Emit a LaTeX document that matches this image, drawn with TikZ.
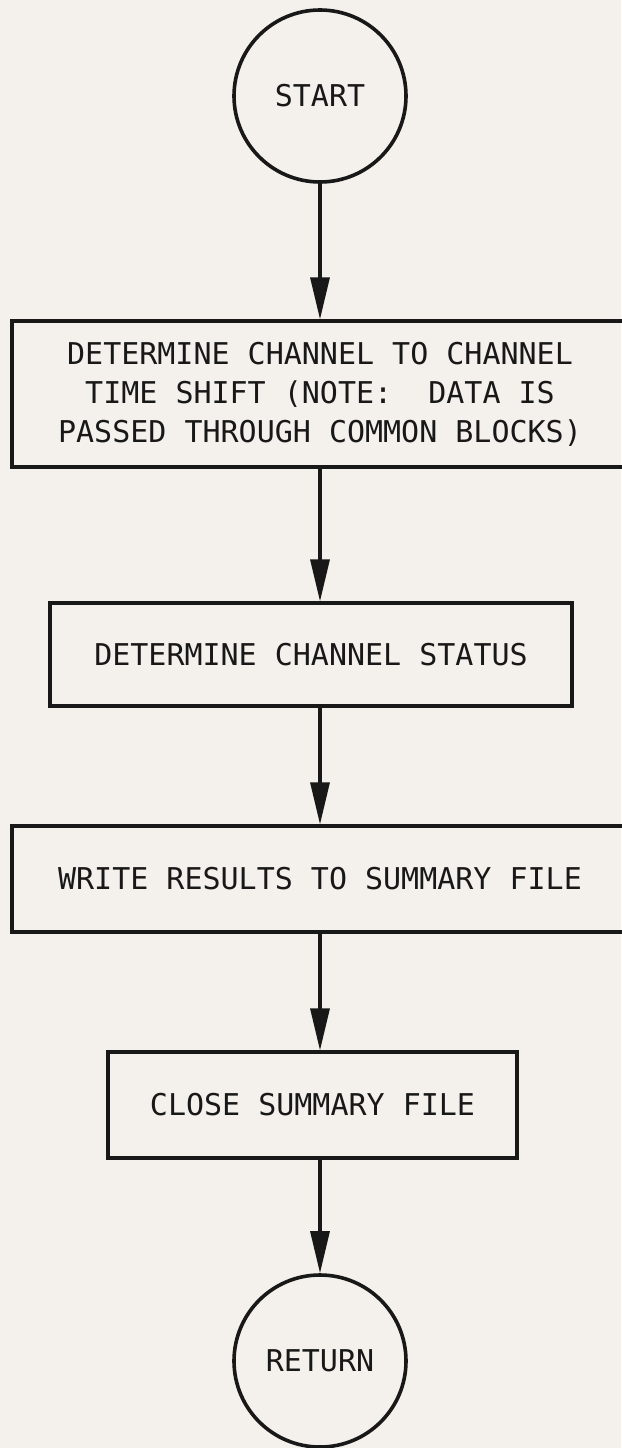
\documentclass[tikz,border=0pt]{standalone}
\usepackage{fontspec}
\newfontfamily\flowfont{DejaVu Sans Mono}
\usetikzlibrary{arrows.meta}
\definecolor{paper}{RGB}{244,241,236}
\definecolor{ink}{RGB}{24,24,24}
\begin{document}
\begin{tikzpicture}[x=1pt,y=-1pt,
  txt/.style={font=\flowfont\fontsize{30}{39}\selectfont, text=ink, align=center},
  terminal/.style={draw=ink, line width=3.6pt, circle, minimum size=172pt, inner sep=0pt, txt},
  process/.style={draw=ink, line width=3.2pt, rectangle, inner sep=0pt, txt},
  flow/.style={draw=ink, line width=3.2pt, -{Triangle[length=42pt,width=19pt]}}]
\fill[paper] (0,0) rectangle (621,1448);
\useasboundingbox (0,0) rectangle (621,1448);
\node[terminal] (start) at (320,96) {START};
\node[process, minimum width=616pt, minimum height=146pt] (b1) at (320,394)
  {DETERMINE CHANNEL TO CHANNEL\\TIME SHIFT (NOTE:~~DATA IS\\PASSED THROUGH COMMON BLOCKS)};
\node[process, minimum width=522pt, minimum height=103pt] (b2) at (311,654.5)
  {DETERMINE CHANNEL STATUS};
\node[process, minimum width=616pt, minimum height=106pt] (b3) at (320,879)
  {WRITE RESULTS TO SUMMARY FILE};
\node[process, minimum width=409pt, minimum height=106pt] (b4) at (312.5,1105)
  {CLOSE SUMMARY FILE};
\node[terminal] (ret) at (320,1361) {RETURN};
\draw[flow] (start.south) -- (start.south |- b1.north);
\draw[flow] (b1.south -| start) -- (b2.north -| start);
\draw[flow] (b2.south -| start) -- (b3.north -| start);
\draw[flow] (b3.south -| start) -- (b4.north -| start);
\draw[flow] (b4.south -| start) -- (ret.north);
\end{tikzpicture}
\end{document}
